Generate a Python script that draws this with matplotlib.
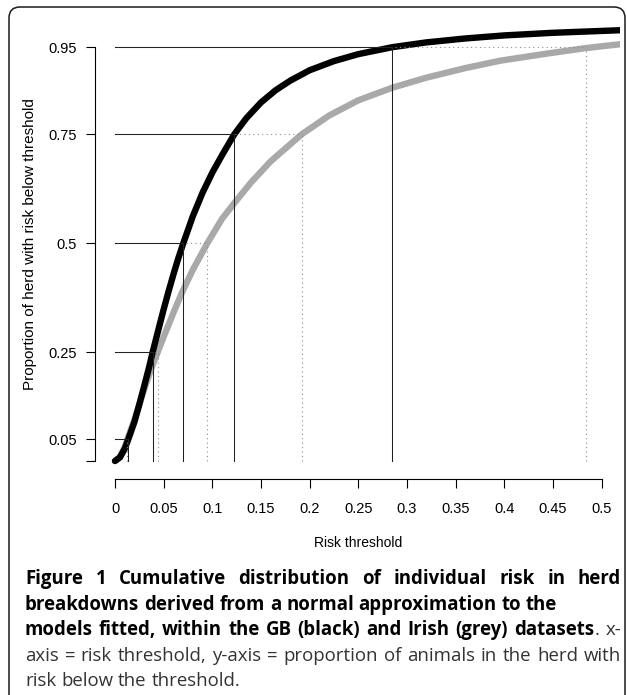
import matplotlib
matplotlib.use("Agg")
import matplotlib.pyplot as plt
from matplotlib.patches import FancyBboxPatch
from matplotlib.transforms import IdentityTransform

# ---------------- data ----------------
gb_x = [0.000, 0.005, 0.010, 0.0137, 0.020, 0.025, 0.030, 0.035, 0.0387, 0.045,
        0.050, 0.055, 0.060, 0.065, 0.0702, 0.080, 0.090, 0.100, 0.110, 0.1226,
        0.135, 0.150, 0.165, 0.180, 0.200, 0.225, 0.250, 0.285, 0.320, 0.360,
        0.400, 0.450, 0.520]
gb_p = [0.000, 0.008, 0.028, 0.050, 0.090, 0.130, 0.172, 0.215, 0.250, 0.305,
        0.348, 0.389, 0.428, 0.465, 0.500, 0.562, 0.616, 0.662, 0.702, 0.750,
        0.787, 0.823, 0.851, 0.873, 0.897, 0.918, 0.934, 0.950, 0.961, 0.970,
        0.977, 0.983, 0.989]

ir_x = [0.000, 0.005, 0.010, 0.0128, 0.020, 0.025, 0.030, 0.037, 0.0439, 0.050,
        0.060, 0.0685, 0.080, 0.0949, 0.110, 0.1226, 0.140, 0.160, 0.1919, 0.220,
        0.250, 0.285, 0.320, 0.360, 0.396, 0.440, 0.484, 0.520]
ir_p = [0.000, 0.010, 0.032, 0.050, 0.095, 0.130, 0.165, 0.210, 0.250, 0.285,
        0.340, 0.385, 0.439, 0.500, 0.556, 0.592, 0.640, 0.688, 0.750, 0.793,
        0.828, 0.857, 0.880, 0.902, 0.919, 0.934, 0.948, 0.957]

levels = [0.05, 0.25, 0.5, 0.75, 0.95]
gb_q = [0.0137, 0.0387, 0.0702, 0.1226, 0.285]
ir_q = [0.0128, 0.0439, 0.0949, 0.1919, 0.484]

x_ticks = [0, 0.05, 0.1, 0.15, 0.2, 0.25, 0.3, 0.35, 0.4, 0.45, 0.5]
x_tick_labels = ["0", "0.05", "0.1", "0.15", "0.2", "0.25", "0.3", "0.35", "0.4", "0.45", "0.5"]
y_ticks = [0, 0.05, 0.25, 0.5, 0.75, 0.95]
y_tick_labels = ["", "0.05", "0.25", "0.5", "0.75", "0.95"]

# ---------------- figure ----------------
W, H = 627, 695
fig = plt.figure(figsize=(W / 100, H / 100), dpi=100)
fig.patch.set_facecolor("white")

# outer rounded frame (pixel coordinates)
frame = FancyBboxPatch((9, -30), 616, 695 - 7 + 30,
                       boxstyle="round,pad=0,rounding_size=11",
                       transform=IdentityTransform(), fill=False,
                       edgecolor="#1a1a1a", linewidth=1.1)
fig.patches.append(frame)

ax = fig.add_axes([95 / W, 1 - 479 / H, (620 - 95) / W, (479 - 20) / H])
ax.set_xlim(-20 / 973, 505 / 973)
ax.set_ylim(-18 / 435.6, 441 / 435.6)

grey = "#a9a9a9"
ax.plot(ir_x, ir_p, color=grey, lw=4.6, solid_capstyle="round",
        solid_joinstyle="round", zorder=2)
ax.plot(gb_x, gb_p, color="black", lw=4.6, solid_capstyle="round",
        solid_joinstyle="round", zorder=2.5)

dot = (0, (1, 3))
for lv, g, i in zip(levels, gb_q, ir_q):
    ax.plot([0, i], [lv, lv], color="#8c8c8c", lw=0.8, ls=dot, zorder=3)
    ax.plot([i, i], [0, lv], color="#8c8c8c", lw=0.8, ls=dot, zorder=3)
    ax.plot([0, g], [lv, lv], color="#222222", lw=0.75, zorder=3.2)
    ax.plot([g, g], [0, lv], color="#222222", lw=0.75, zorder=3.2)

for s in ["top", "right"]:
    ax.spines[s].set_visible(False)
ax.spines["left"].set_bounds(0, 0.95)
ax.spines["bottom"].set_bounds(0, 0.5)
for s in ["left", "bottom"]:
    ax.spines[s].set_linewidth(0.8)

ax.set_xticks(x_ticks)
ax.set_xticklabels(x_tick_labels)
ax.set_yticks(y_ticks)
ax.set_yticklabels(y_tick_labels)
rfont = "Liberation Sans"
ax.tick_params(axis="y", length=6.5, width=0.8, pad=6.5, labelsize=10.5)
ax.tick_params(axis="x", length=6.5, width=0.8, pad=10, labelsize=10.5)
for t in ax.get_xticklabels() + ax.get_yticklabels():
    t.set_fontfamily(rfont)

fig.text(30 / W, 1 - 244 / H, "Proportion of herd with risk below threshold",
         rotation=90, ha="center", va="center", fontsize=11, family=rfont)
fig.text(358 / W, 1 - 543 / H, "Risk threshold", ha="center", va="center",
         fontsize=10, family=rfont)

# ---------------- caption with justified lines ----------------
cfont = "Open Sans"
renderer = fig.canvas.get_renderer()


def measure(txt, bold, size):
    t = fig.text(0, 0, txt, fontsize=size, family=cfont,
                 fontweight="bold" if bold else "normal")
    w = t.get_window_extent(renderer).width
    t.remove()
    return w


lines = [
    [[("Figure", True)], [("1", True)], [("Cumulative", True)], [("distribution", True)],
     [("of", True)], [("individual", True)], [("risk", True)], [("in", True)], [("herd", True)]],
    [[("breakdowns", True)], [("derived", True)], [("from", True)], [("a", True)],
     [("normal", True)], [("approximation", True)], [("to", True)], [("the", True)]],
    [[("models", True)], [("fitted,", True)], [("within", True)], [("the", True)],
     [("GB", True)], [("(black)", True)], [("and", True)], [("Irish", True)],
     [("(grey)", True)], [("datasets", True), (".", False)], [("x-", False)]],
    [[(w, False)] for w in "axis = risk threshold, y-axis = proportion of animals in the herd with".split()],
    [[(w, False)] for w in "risk below the threshold.".split()],
]
justify = [True, False, True, True, False]
baselines = [584, 610, 635, 661, 686]
x0, x1 = 25, 621

ref_text = "breakdowns derived from a normal approximation to the"
w10 = measure(ref_text, True, 10)
csize = 10 * 532 / w10

for words, jus, yb in zip(lines, justify, baselines):
    widths = []
    for word in words:
        widths.append([measure(p, b, csize) for p, b in word])
    total = sum(sum(w) for w in widths)
    if jus and len(words) > 1:
        gap = (x1 - x0 - total) / (len(words) - 1)
    else:
        gap = measure("a b", False, csize) - measure("ab", False, csize)
    x = x0
    for word, ws in zip(words, widths):
        for (p, b), w in zip(word, ws):
            fig.text(x / W, (H - yb + 1e-6) / H, p, fontsize=csize, family=cfont,
                     fontweight="bold" if b else "normal", ha="left",
                     va="baseline", color="black" if b else "#333333")
            x += w
        x += gap

fig.savefig("out.png", dpi=100, facecolor="white")
